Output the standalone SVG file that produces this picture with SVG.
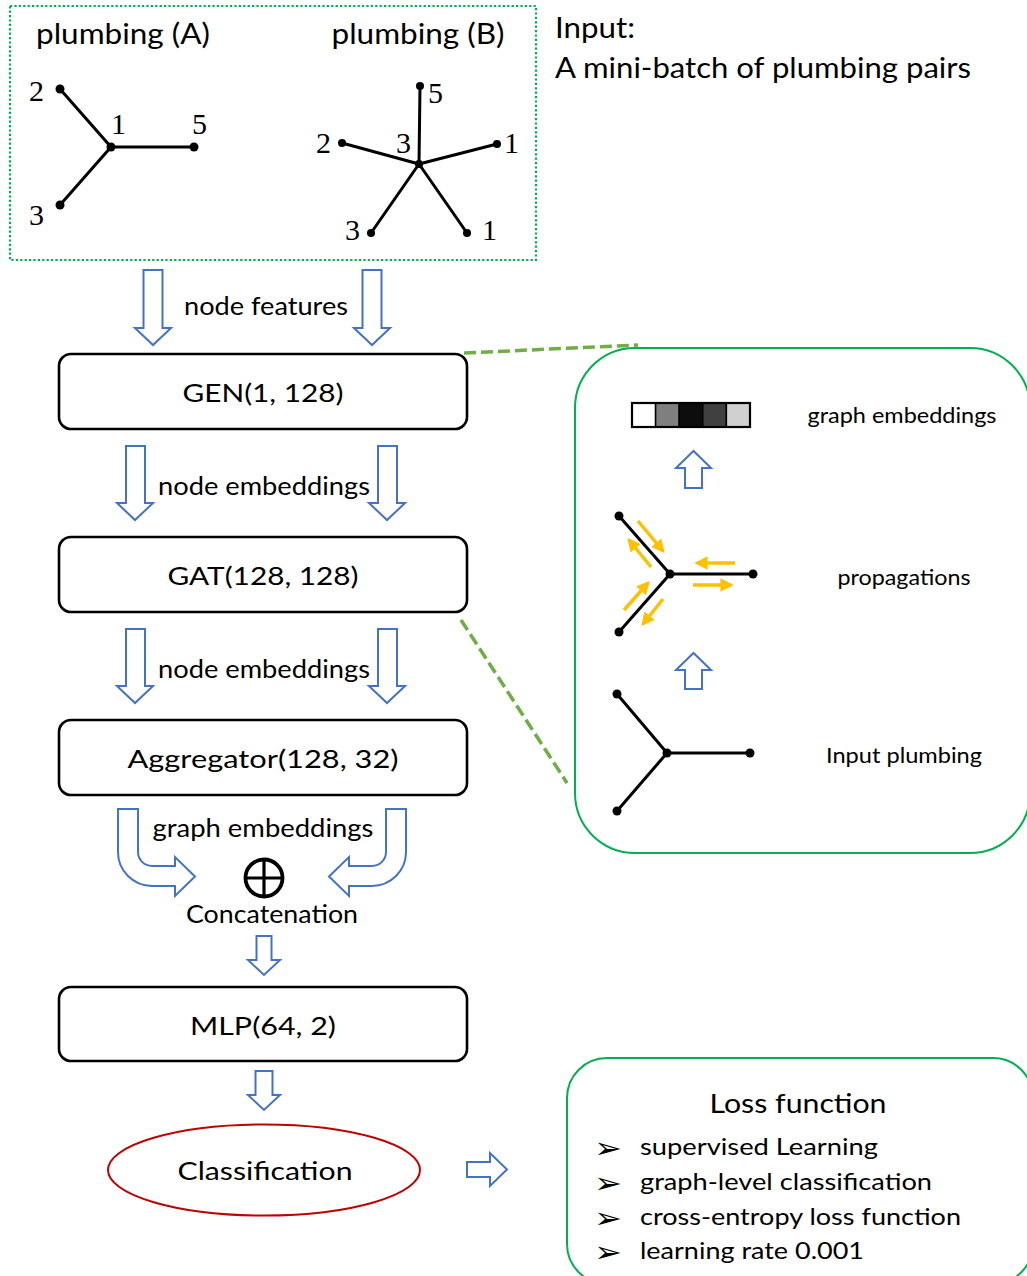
<svg xmlns="http://www.w3.org/2000/svg" width="1027" height="1276" viewBox="0 0 1027 1276">
  <style>
    .t { font-family: Lato, "Open Sans", "Liberation Sans", sans-serif; fill: #000; }
    .big { font-size: 28.5px; }
    .mid { font-size: 25.5px; }
    .small { font-size: 20.5px; }
    .item { font-size: 24px; }
    .num { font-family: "Liberation Serif", "DejaVu Serif", serif; font-size: 30px; fill: #000; }
    .bullet { font-family: "DejaVu Sans", sans-serif; font-size: 29px; fill: #000; }
    .box { fill: #fff; stroke: #000; stroke-width: 2.6; }
    .blk { fill: #fff; stroke: #4472C4; stroke-width: 2; stroke-linejoin: miter; }
    .edge { stroke: #000; stroke-width: 3; fill: none; }
    .dot { fill: #000; }
    .prop { stroke: #FFC000; stroke-width: 3.5; fill: none; }
    .lead { stroke: #70AD47; stroke-width: 3.5; stroke-dasharray: 12 5; fill: none; }
    .panel { fill: none; stroke: #00B050; stroke-width: 2; }
  </style>
  <defs>
    <marker id="orangeHead" viewBox="0 0 10 10" refX="8" refY="5" markerWidth="3.8" markerHeight="3.8" orient="auto" markerUnits="strokeWidth">
      <path d="M0,0 L10,5 L0,10 Z" fill="#FFC000"/>
    </marker>
  </defs>

  <rect width="1027" height="1276" fill="#fff"/>

  <!-- input: pair of plumbing graphs -->
  <g id="input">
    <rect x="10" y="6" width="526" height="254" fill="none" stroke="#00B050" stroke-width="2.2" stroke-dasharray="2.2 2.2"/>
    <text class="t big" x="123" y="44" text-anchor="middle" textLength="174" lengthAdjust="spacingAndGlyphs">plumbing (A)</text>
    <text class="t big" x="418" y="44" text-anchor="middle" textLength="173" lengthAdjust="spacingAndGlyphs">plumbing (B)</text>
    <text class="t big" x="555" y="38" textLength="80" lengthAdjust="spacingAndGlyphs">Input:</text>
    <text class="t big" x="555" y="78" textLength="416" lengthAdjust="spacingAndGlyphs">A mini-batch of plumbing pairs</text>

    <g id="plumbing-a">
      <path class="edge" d="M60,89 L111,147 L194,147 M111,147 L60,205"/>
      <circle class="dot" cx="60" cy="89" r="4.5"/>
      <circle class="dot" cx="111" cy="147" r="4.5"/>
      <circle class="dot" cx="194" cy="147" r="4.5"/>
      <circle class="dot" cx="60" cy="205" r="4.5"/>
      <text class="num" x="29" y="101">2</text>
      <text class="num" x="111" y="134">1</text>
      <text class="num" x="192" y="134">5</text>
      <text class="num" x="29" y="225">3</text>
    </g>

    <g id="plumbing-b">
      <path class="edge" d="M419,164 L420,86 M419,164 L342,143 M419,164 L497,144 M419,164 L371,233 M419,164 L467,233"/>
      <circle class="dot" cx="419" cy="164" r="4"/>
      <circle class="dot" cx="420" cy="86" r="4"/>
      <circle class="dot" cx="342" cy="143" r="4"/>
      <circle class="dot" cx="497" cy="144" r="4"/>
      <circle class="dot" cx="371" cy="233" r="4"/>
      <circle class="dot" cx="467" cy="233" r="4"/>
      <text class="num" x="428" y="103">5</text>
      <text class="num" x="316" y="153">2</text>
      <text class="num" x="396" y="153">3</text>
      <text class="num" x="504" y="153">1</text>
      <text class="num" x="345" y="240">3</text>
      <text class="num" x="482" y="240">1</text>
    </g>
  </g>

  <!-- model layers -->
  <g id="gen">
    <rect class="box" x="59" y="354" width="408" height="75" rx="12"/>
    <text class="t mid" x="263" y="402" text-anchor="middle" textLength="161" lengthAdjust="spacingAndGlyphs">GEN(1, 128)</text>
  </g>
  <g id="gat">
    <rect class="box" x="59" y="537" width="408" height="75" rx="12"/>
    <text class="t mid" x="263" y="585" text-anchor="middle" textLength="191" lengthAdjust="spacingAndGlyphs">GAT(128, 128)</text>
  </g>
  <g id="aggregator">
    <rect class="box" x="59" y="720" width="408" height="75" rx="12"/>
    <text class="t mid" x="263" y="768" text-anchor="middle" textLength="271" lengthAdjust="spacingAndGlyphs">Aggregator(128, 32)</text>
  </g>
  <g id="concat">
    <circle cx="264" cy="878" r="18.5" fill="none" stroke="#000" stroke-width="3.8"/>
    <path d="M245.5,878 H282.5 M264,859.5 V896.5" stroke="#000" stroke-width="3.2"/>
    <text class="t mid" x="272" y="923" text-anchor="middle" textLength="172" lengthAdjust="spacingAndGlyphs">Concatenation</text>
  </g>
  <g id="mlp">
    <rect class="box" x="59" y="987" width="408" height="74" rx="12"/>
    <text class="t mid" x="263" y="1035" text-anchor="middle" textLength="146" lengthAdjust="spacingAndGlyphs">MLP(64, 2)</text>
  </g>
  <g id="classification">
    <ellipse cx="264" cy="1170" rx="156" ry="45.5" fill="#fff" stroke="#C00000" stroke-width="2"/>
    <text class="t mid" x="265" y="1180" text-anchor="middle" textLength="175" lengthAdjust="spacingAndGlyphs">Classification</text>
  </g>

  <!-- detail panel: propagation inside the graph layers -->
  <g id="detail-panel">
    <rect class="panel" x="575" y="348" width="455" height="505" rx="60"/>
    <g id="embedding-bar" stroke="#000" stroke-width="1.5">
      <rect x="632" y="403" width="23.6" height="24" fill="#FFFFFF"/>
      <rect x="655.6" y="403" width="23.6" height="24" fill="#7F7F7F"/>
      <rect x="679.2" y="403" width="23.6" height="24" fill="#0D0D0D"/>
      <rect x="702.8" y="403" width="23.6" height="24" fill="#404040"/>
      <rect x="726.4" y="403" width="23.6" height="24" fill="#D0D0D0"/>
      <rect x="632" y="403" width="118" height="24" fill="none" stroke-width="2.2"/>
    </g>
    <text class="t small" x="902" y="423" text-anchor="middle" textLength="189" lengthAdjust="spacingAndGlyphs">graph embeddings</text>

    <g id="propagation-graph">
      <path class="edge" d="M619,516 L670,574 L753,574 M670,574 L619,632"/>
      <circle class="dot" cx="619" cy="516" r="4.5"/>
      <circle class="dot" cx="670" cy="574" r="4.5"/>
      <circle class="dot" cx="753" cy="574" r="4.5"/>
      <circle class="dot" cx="619" cy="632" r="4.5"/>
      <line class="prop" x1="638" y1="521" x2="663" y2="551" marker-end="url(#orangeHead)"/>
      <line class="prop" x1="651" y1="567" x2="629" y2="540" marker-end="url(#orangeHead)"/>
      <line class="prop" x1="624" y1="610" x2="648" y2="583" marker-end="url(#orangeHead)"/>
      <line class="prop" x1="663" y1="599" x2="643" y2="624" marker-end="url(#orangeHead)"/>
      <line class="prop" x1="735" y1="563" x2="697" y2="563" marker-end="url(#orangeHead)"/>
      <line class="prop" x1="693" y1="585" x2="731" y2="585" marker-end="url(#orangeHead)"/>
    </g>
    <text class="t small" x="904" y="585" text-anchor="middle" textLength="133" lengthAdjust="spacingAndGlyphs">propagations</text>

    <g id="input-graph">
      <path class="edge" d="M617,694 L667,753 L750,753 M667,753 L617,811"/>
      <circle class="dot" cx="617" cy="694" r="4.5"/>
      <circle class="dot" cx="667" cy="753" r="4.5"/>
      <circle class="dot" cx="750" cy="753" r="4.5"/>
      <circle class="dot" cx="617" cy="811" r="4.5"/>
    </g>
    <text class="t small" x="904" y="763" text-anchor="middle" textLength="156" lengthAdjust="spacingAndGlyphs">Input plumbing</text>
  </g>

  <!-- loss function summary -->
  <g id="loss">
    <rect class="panel" x="567" y="1058" width="466" height="226" rx="40"/>
    <text class="t" font-size="27.5" x="798" y="1113" text-anchor="middle" textLength="177" lengthAdjust="spacingAndGlyphs">Loss function</text>
    <text class="bullet" x="594" y="1158" textLength="28" lengthAdjust="spacingAndGlyphs">➢</text>
    <text class="bullet" x="594" y="1193" textLength="28" lengthAdjust="spacingAndGlyphs">➢</text>
    <text class="bullet" x="594" y="1228" textLength="28" lengthAdjust="spacingAndGlyphs">➢</text>
    <text class="bullet" x="594" y="1262" textLength="28" lengthAdjust="spacingAndGlyphs">➢</text>
    <text class="t item" x="640" y="1155" textLength="238" lengthAdjust="spacingAndGlyphs">supervised Learning</text>
    <text class="t item" x="640" y="1190" textLength="292" lengthAdjust="spacingAndGlyphs">graph-level classification</text>
    <text class="t item" x="640" y="1225" textLength="321" lengthAdjust="spacingAndGlyphs">cross-entropy loss function</text>
    <text class="t item" x="640" y="1259" textLength="224" lengthAdjust="spacingAndGlyphs">learning rate 0.001</text>
  </g>

  <!-- connectors: block arrows, flow labels and callout leaders -->
  <g id="connectors">
    <!-- node features -->
    <path class="blk" d="M143.5,270 H162.5 V328 H171 L153,345 L135,328 H143.5 Z"/>
    <path class="blk" d="M362.5,270 H381.5 V328 H390 L372,345 L354,328 H362.5 Z"/>
    <text class="t mid" x="266" y="315" text-anchor="middle" textLength="164" lengthAdjust="spacingAndGlyphs">node features</text>

    <!-- GEN to GAT -->
    <path class="blk" d="M126,446 H145 V503 H153 L135,520 L117,503 H126 Z"/>
    <path class="blk" d="M378,446 H397 V503 H405 L387,520 L369,503 H378 Z"/>
    <text class="t mid" x="264" y="495" text-anchor="middle" textLength="212" lengthAdjust="spacingAndGlyphs">node embeddings</text>

    <!-- GAT to Aggregator -->
    <path class="blk" d="M126,629 H145 V686 H153 L135,703 L117,686 H126 Z"/>
    <path class="blk" d="M378,629 H397 V686 H405 L387,703 L369,686 H378 Z"/>
    <text class="t mid" x="264" y="678" text-anchor="middle" textLength="212" lengthAdjust="spacingAndGlyphs">node embeddings</text>

    <!-- Aggregator to concatenation -->
    <path class="blk" d="M118,809 H138 V852 A14,14 0 0 0 152,866 H175 V857 L195,876.5 L175,896 V886 H152 A34,34 0 0 1 118,852 Z"/>
    <path class="blk" d="M406,809 H386 V852 A14,14 0 0 1 372,866 H349 V857 L329,876.5 L349,896 V886 H372 A34,34 0 0 0 406,852 Z"/>
    <text class="t mid" x="263" y="837" text-anchor="middle" textLength="221" lengthAdjust="spacingAndGlyphs">graph embeddings</text>

    <!-- concatenation to MLP -->
    <path class="blk" d="M256.5,936 H271.5 V960 H280 L264,975 L248,960 H256.5 Z"/>
    <!-- MLP to classification -->
    <path class="blk" d="M255.5,1071 H272.5 V1095 H280 L264,1110 L248,1095 H255.5 Z"/>
    <!-- classification to loss -->
    <path class="blk" d="M467,1162 H490 V1153 L507,1169.5 L490,1186 V1177 H467 Z"/>

    <!-- panel up arrows -->
    <path class="blk" d="M685,488 V468 H676 L693.5,451 L711,468 H702 V488 Z"/>
    <path class="blk" d="M685,689 V670 H676 L693.5,653 L711,670 H702 V689 Z"/>

    <!-- callout leaders to detail panel -->
    <line class="lead" x1="464" y1="353" x2="638" y2="345"/>
    <line class="lead" x1="461" y1="620" x2="567" y2="783"/>
  </g>
</svg>
